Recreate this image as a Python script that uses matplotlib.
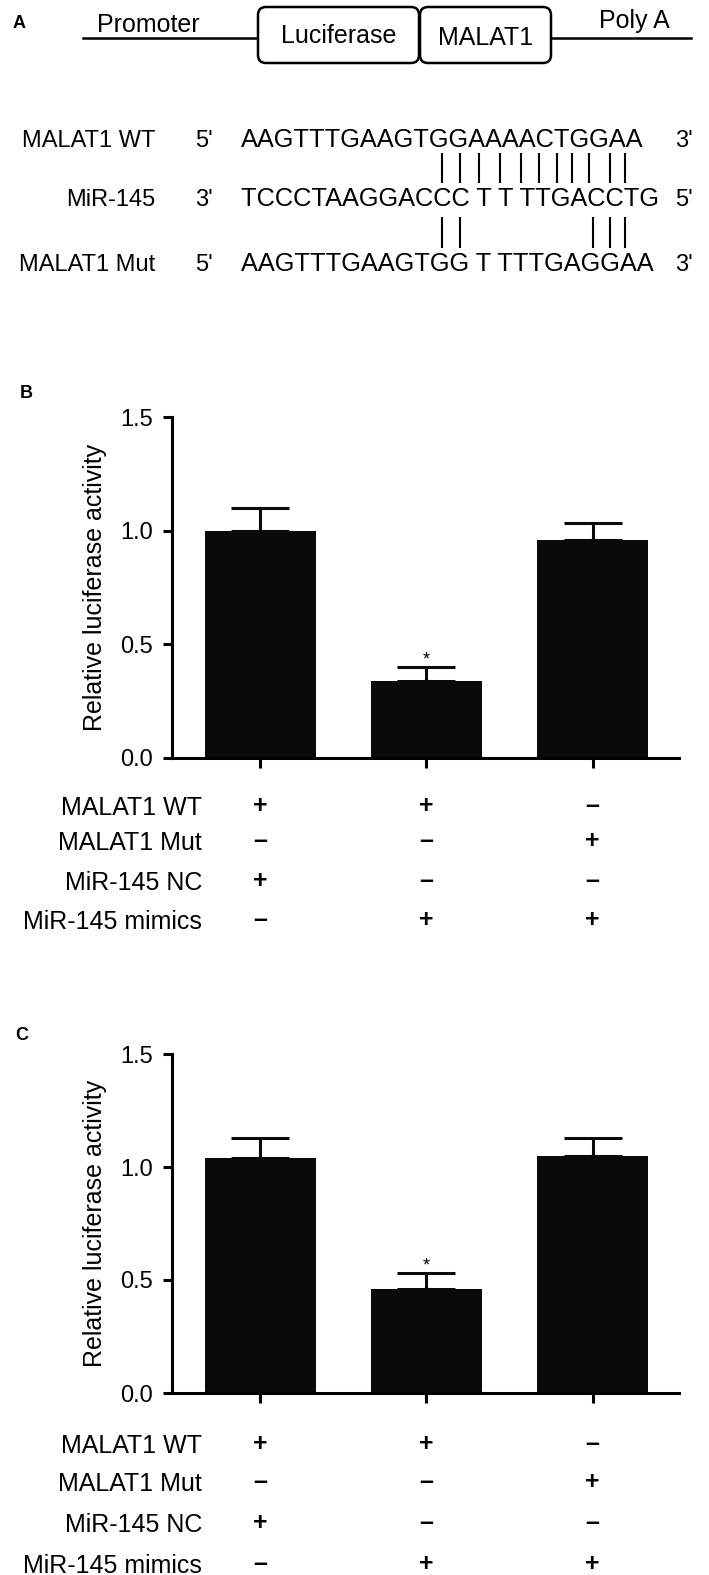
import matplotlib
matplotlib.use('Agg')
import matplotlib.pyplot as plt
from matplotlib.patches import FancyBboxPatch
from matplotlib.transforms import blended_transform_factory
import numpy as np

plt.rcParams['font.family'] = ['Liberation Sans', 'DejaVu Sans']

W, H = 709, 1575

# panel A: construct and sequences
row_names = ['MALAT1 WT', 'MiR-145', 'MALAT1 Mut']
row_ends = [("5'", "3'"), ("3'", "5'"), ("5'", "3'")]
sequences = ['AAGTTTGAAGTGGAAAACTGGAA',
             'TCCCTAAGGACCC T T TTGACCTG',
             'AAGTTTGAAGTGG T TTTGAGGAA']

# panels B and C
conditions = ['MALAT1 WT', 'MALAT1 Mut', 'MiR-145 NC', 'MiR-145 mimics']
signs = [['+', '+', '–'],
         ['–', '–', '+'],
         ['+', '–', '–'],
         ['–', '+', '+']]
mean_b = [1.00, 0.34, 0.96]
err_b = [0.10, 0.06, 0.075]
mean_c = [1.04, 0.46, 1.05]
err_c = [0.09, 0.07, 0.08]
star = [False, True, False]

BLACK = '#0a0a0a'

fig = plt.figure(figsize=(W / 100, H / 100), dpi=100)
fig.patch.set_facecolor('white')

# overlay in pixel coordinates for the schematic and labels
ov = fig.add_axes([0, 0, 1, 1])
ov.set_xlim(0, W)
ov.set_ylim(H, 0)
ov.axis('off')
ov.patch.set_visible(False)

# --- panel A ---
ov.text(13, 23, 'A', fontsize=13, fontweight='bold', ha='left', va='center')
ov.plot([83, 258], [38, 38], color='k', lw=1.8)
ov.plot([551, 691], [38, 38], color='k', lw=1.8)
for x0, x1, label, base in [(258, 419, 'Luciferase', 43), (420, 551, 'MALAT1', 45)]:
    ov.add_patch(FancyBboxPatch((x0, 7), x1 - x0, 56,
                                boxstyle='round,pad=0,rounding_size=8',
                                fc='white', ec='k', lw=1.8, zorder=3))
    ov.text((x0 + x1) / 2, base, label, ha='center', va='baseline', fontsize=18, zorder=4)
ov.text(148, 32, 'Promoter', ha='center', va='baseline', fontsize=18)
ov.text(634, 28, 'Poly A', ha='center', va='baseline', fontsize=18)

row_base = [147, 206, 271]
for name, (e1, e2), seq, yb in zip(row_names, row_ends, sequences, row_base):
    ov.text(155, yb, name, ha='right', va='baseline', fontsize=17)
    ov.text(204, yb, e1, ha='center', va='baseline', fontsize=17)
    ov.text(241, yb, seq, ha='left', va='baseline', fontsize=18.3)
    ov.text(684, yb, e2, ha='center', va='baseline', fontsize=17)

top_pairs = [442, 460, 479, 500, 521, 539, 557, 572, 589, 610, 625]
bottom_pairs = [442, 460, 593, 610, 625]
ov.vlines(top_pairs, 153, 183, color='k', lw=1.5)
ov.vlines(bottom_pairs, 217, 248, color='k', lw=1.5)


def draw_panel(letter, letter_x, letter_y, top, bottom, means, errs, rows_y):
    ov.text(letter_x, letter_y, letter, fontsize=13, fontweight='bold', ha='left', va='center')
    ax = fig.add_axes([172 / W, 1 - bottom / H, (679 - 172) / W, (bottom - top) / H])
    ax.patch.set_visible(False)
    x = np.arange(len(means))
    ax.bar(x, means, width=0.667, color=BLACK, zorder=2)
    ax.errorbar(x, means, yerr=[np.zeros(len(errs)), errs], fmt='none',
                ecolor=BLACK, elinewidth=2.2, capsize=21, capthick=2.2, zorder=1)
    for xi, m, e, s in zip(x, means, errs, star):
        if s:
            ax.annotate('*', (xi, m + e), xytext=(0, 5), textcoords='offset points',
                        ha='center', va='center', fontsize=13)
    ax.set_xlim(-0.53, 2.52)
    ax.set_ylim(0, 1.5)
    ax.set_yticks([0, 0.5, 1.0, 1.5])
    ax.set_yticklabels(['0.0', '0.5', '1.0', '1.5'])
    ax.set_xticks(x)
    ax.tick_params(axis='y', length=6.5, width=2.2, pad=7, labelsize=17)
    ax.tick_params(axis='x', length=7, width=2.2, labelbottom=False)
    for side in ['top', 'right']:
        ax.spines[side].set_visible(False)
    for side in ['left', 'bottom']:
        ax.spines[side].set_linewidth(2.2)
    ax.set_ylabel('Relative luciferase activity', fontsize=18, labelpad=10)

    trans = blended_transform_factory(ax.transData, ov.transData)
    for name, row_signs, yc in zip(conditions, signs, rows_y):
        ov.text(202, yc + 9, name, ha='right', va='baseline', fontsize=18)
        for xi, s in zip(x, row_signs):
            ax.text(xi, yc, s, transform=trans, ha='center', va='center',
                    fontsize=18, fontweight='bold')
    return ax


draw_panel('B', 20, 394, 417, 758, mean_b, err_b, [806, 841, 881, 920])
draw_panel('C', 15, 1036, 1054, 1393, mean_c, err_c, [1444, 1482, 1523, 1564])

fig.savefig('out.png', dpi=100, facecolor='white')
